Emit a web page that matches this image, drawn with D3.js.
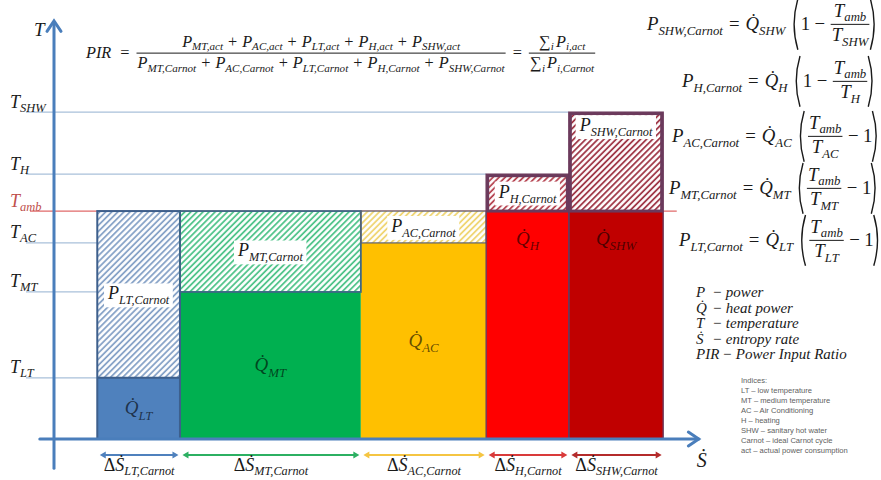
<!DOCTYPE html>
<html>
<head>
<meta charset="utf-8">
<script src="https://cdn.jsdelivr.net/npm/d3@7"></script>
<style>
  body { margin: 0; background: #fff; }
  svg { display: block; }
</style>
</head>
<body>
<svg id="chart" width="881" height="480"></svg>
<script>
// ---- data -------------------------------------------------------------
const systems      = ["LT", "MT", "AC", "H", "SHW"];
const deltaS       = [12.8, 28.0, 19.4, 12.8, 14.6];   // entropy rate width of each block
const sStart       = 6.7;                              // first block starts here on the Ṡ axis
const supplyTemp   = [14.6, 35.1, 46.8, 63.2, 78.0];   // supply temperature of each system
const Tamb         = 54.4;                             // ambient temperature
const tempLabels   = ["SHW", "H", "amb", "AC", "MT", "LT"];
const tempValues   = [78.0, 63.2, 54.4, 46.8, 35.1, 14.6];

const legendSymbols = ["P", "Q\u0307", "T", "\u1E60", "PIR"];
const legendTexts   = ["power", "heat power", "temperature", "entropy rate", "Power Input Ratio"];
const indexLines    = ["Indices:", "LT \u2013 low temperature", "MT \u2013 medium temperature",
                       "AC \u2013 Air Conditioning", "H \u2013 heating", "SHW \u2013 sanitary hot water",
                       "Carnot \u2013 ideal Carnot cycle", "act \u2013 actual power consumption"];

// ---- styles -----------------------------------------------------------
const qFill      = ["#4f81bd", "#00b050", "#ffc000", "#ff0000", "#c00000"];
const hatchColor = ["#7f9dc4", "#45c083", "#efd36a", "#b23a48", "#9a2c3c"];
const borderCol  = ["#3d5f8c", "#3e6786", "#5b6070", "#6b3a5c", "#6b3a5c"];
const arrowCol   = ["#4f81bd", "#2cb062", "#f5c542", "#d93a3a", "#b42b2b"];
const axisCol    = "#4a7ebb";
const refCol     = "#a9c0da";
const FONT = "'Liberation Serif', 'DejaVu Serif', serif";
const INK = "#1a1a1a";

const svg = d3.select("#chart");
const x = d3.scaleLinear().domain([0, 100]).range([54, 700]);
const y = d3.scaleLinear().domain([0, 100]).range([439, 20]);

// ---- small math typesetter -------------------------------------------
// token: {t, s, up, pad, gapAfter} | {frac:[num, den]} | {paren:"(" or ")"}
function mathRow(parent, tokens, size, color, subDrop) {
  color = color || INK;
  subDrop = subDrop == null ? 0.27 : subDrop;
  const g = parent.append("g").attr("text-anchor", "start");
  let cx = 0;
  for (const tk of tokens) {
    if (tk.frac) {
      const fs = size * (tk.scale || 1);
      const n = mathRow(g, tk.frac[0], fs, color, 0.22);
      const d = mathRow(g, tk.frac[1], fs, color, subDrop);
      const w = Math.max(n.width, d.width) + 4;
      const axis = -size * 0.3;
      n.g.attr("transform", `translate(${cx + (w - n.width) / 2},${axis - fs * 0.4})`);
      d.g.attr("transform", `translate(${cx + (w - d.width) / 2},${axis + fs * 0.9})`);
      g.append("line").attr("x1", cx + 1).attr("x2", cx + w - 1)
        .attr("y1", axis).attr("y2", axis).attr("stroke", color).attr("stroke-width", 1);
      cx += w + (tk.gapAfter || 0);
    } else if (tk.paren) {
      const h = size * 1.35, axis = -size * 0.3, pw = size * 0.4;
      const p = tk.paren === "("
        ? `M${cx + pw},${axis - h} Q${cx},${axis} ${cx + pw},${axis + h}`
        : `M${cx},${axis - h} Q${cx + pw},${axis} ${cx},${axis + h}`;
      g.append("path").attr("d", p).attr("fill", "none").attr("stroke", color).attr("stroke-width", 1.4);
      cx += pw + size * 0.15;
    } else {
      cx += tk.pad || 0;
      const t = g.append("text").attr("x", cx).attr("y", 0).attr("text-anchor", "start")
        .attr("font-family", FONT).attr("font-size", size)
        .attr("font-style", tk.up ? "normal" : "italic").attr("fill", color);
      t.append("tspan").text(tk.t);
      if (tk.s) t.append("tspan").attr("font-size", size * 0.68).attr("dy", size * subDrop).text(tk.s);
      cx += t.node().getComputedTextLength() + (tk.pad || 0) + (tk.gapAfter || 0);
    }
  }
  return { g, width: cx };
}
const V  = (t, s) => ({ t, s });
const Op = (t, pad) => ({ t, up: true, pad: pad == null ? 4 : pad });
const Qd = s => ({ t: "Q\u0307", s });

// ---- hatch patterns ---------------------------------------------------
const defs = svg.append("defs");
systems.forEach((s, i) => {
  const p = defs.append("pattern").attr("id", "hatch-" + s)
    .attr("patternUnits", "userSpaceOnUse").attr("width", 4.3).attr("height", 4.3)
    .attr("patternTransform", "rotate(45)");
  p.append("rect").attr("width", 4.3).attr("height", 4.3).attr("fill", "#fff");
  p.append("line").attr("x1", 1).attr("x2", 1).attr("y1", 0).attr("y2", 4.3)
    .attr("stroke", hatchColor[i]).attr("stroke-width", 1.7);
});

// ---- block geometry ---------------------------------------------------
let acc = sStart;
const blocks = systems.map((s, i) => {
  const s0 = acc, s1 = acc + deltaS[i];
  acc = s1;
  const heater = supplyTemp[i] > Tamb;
  return {
    s, i, s0, s1, heater,
    qTop: heater ? Tamb : supplyTemp[i],
    cLo: heater ? Tamb : supplyTemp[i],
    cHi: heater ? supplyTemp[i] : Tamb
  };
});

// ---- temperature reference lines ---------------------------------------
const refG = svg.append("g");
tempLabels.forEach((lab, k) => {
  const idx = systems.indexOf(lab);
  const xEnd = lab === "amb" ? x(acc + 2.1) : x(blocks[idx].s0);
  refG.append("line")
    .attr("x1", lab === "amb" ? 30 : 26).attr("x2", xEnd)
    .attr("y1", y(tempValues[k])).attr("y2", y(tempValues[k]))
    .attr("stroke", lab === "amb" ? "#e06a6a" : refCol).attr("stroke-width", 1.2);
});

// temperature axis labels via d3 axis
const yAxis = d3.axisLeft(y).tickValues(tempValues).tickSize(0).tickFormat("");
const yAxisG = svg.append("g").call(yAxis);
yAxisG.select(".domain").remove();
yAxisG.selectAll(".tick").each(function (d, k) {
  const lab = tempLabels[k];
  const t = d3.select(this).append("text")
    .attr("x", 10).attr("y", -5).attr("text-anchor", "start")
    .attr("font-family", FONT).attr("font-style", "italic").attr("font-size", 18)
    .attr("fill", lab === "amb" ? "#c0504d" : INK);
  t.append("tspan").text("T");
  t.append("tspan").attr("font-size", 12.5).attr("dy", 4).text(lab);
});

// ---- blocks -----------------------------------------------------------
const bG = svg.append("g");
blocks.forEach(b => {
  const bx = x(b.s0), bw = x(b.s1) - x(b.s0);
  // heat power
  bG.append("rect").attr("x", bx).attr("y", y(b.qTop)).attr("width", bw)
    .attr("height", y(0) - y(b.qTop)).attr("fill", qFill[b.i]);
  // Carnot power
  bG.append("rect").attr("x", bx).attr("y", y(b.cHi)).attr("width", bw)
    .attr("height", y(b.cLo) - y(b.cHi)).attr("fill", `url(#hatch-${b.s})`);
});
blocks.forEach(b => {
  const bx = x(b.s0), bw = x(b.s1) - x(b.s0);
  if (b.s === "LT") {
    bG.append("rect").attr("x", bx).attr("y", y(b.cHi)).attr("width", bw)
      .attr("height", y(0) - y(b.cHi)).attr("fill", "none").attr("stroke", borderCol[b.i]).attr("stroke-width", 2);
    bG.append("line").attr("x1", bx).attr("x2", bx + bw).attr("y1", y(b.cLo)).attr("y2", y(b.cLo))
      .attr("stroke", borderCol[b.i]).attr("stroke-width", 2);
  } else if (b.heater) {
    bG.append("rect").attr("x", bx).attr("y", y(b.cHi)).attr("width", bw)
      .attr("height", y(0) - y(b.cHi)).attr("fill", "none").attr("stroke", borderCol[b.i]).attr("stroke-width", 1.4);
    bG.append("rect").attr("x", bx + 1.5).attr("y", y(b.cHi) + 1.5).attr("width", bw - 3)
      .attr("height", y(b.cLo) - y(b.cHi) - 1.5).attr("fill", "none").attr("stroke", borderCol[b.i]).attr("stroke-width", 3);
  } else {
    bG.append("rect").attr("x", bx).attr("y", y(b.cHi)).attr("width", bw)
      .attr("height", y(b.cLo) - y(b.cHi)).attr("fill", "none").attr("stroke", borderCol[b.i])
      .attr("stroke-width", b.s === "AC" ? 1.2 : 1.8);
  }
});

// Carnot labels in white boxes
blocks.forEach(b => {
  const cx = (x(b.s0) + x(b.s1)) / 2;
  const cy = b.s === "SHW" ? y(b.cHi) + 19 : (y(b.cHi) + y(b.cLo)) / 2 + 5;
  const lg = bG.append("g");
  const bgRect = lg.append("rect").attr("fill", "#fff");
  const m = mathRow(lg, [V("P", b.s + ",Carnot")], 18);
  m.g.attr("transform", `translate(${cx - m.width / 2},${cy})`);
  const bb = m.g.node().getBBox();
  bgRect.attr("x", cx - m.width / 2 + bb.x - 3).attr("y", cy + bb.y)
    .attr("width", bb.width + 6).attr("height", bb.height);
});

// heat power labels
blocks.forEach(b => {
  const cx = (x(b.s0) + x(b.s1)) / 2;
  const cy = b.heater ? y(b.qTop) + 34 : (y(b.qTop) + y(0)) / 2 + 6;
  const m = mathRow(bG, [Qd(b.s)], 19, "rgba(0,0,0,0.62)");
  m.g.attr("transform", `translate(${cx - m.width / 2},${cy})`);
});

// ---- axes -------------------------------------------------------------
const axG = svg.append("g").attr("stroke", axisCol).attr("stroke-width", 3)
  .attr("fill", "none").attr("stroke-linecap", "round");
axG.append("line").attr("x1", x(0)).attr("x2", x(0)).attr("y1", y(-7)).attr("y2", y(99.5));
axG.append("polyline").attr("points", `${x(0) - 7},${y(97.3)} ${x(0)},${y(99.8)} ${x(0) + 7},${y(97.3)}`);
axG.append("line").attr("x1", x(-2.2)).attr("x2", x(99.8)).attr("y1", y(0)).attr("y2", y(0));
axG.append("polyline").attr("points", `${x(98.2)},${y(0) - 7} ${x(99.8)},${y(0)} ${x(98.2)},${y(0) + 7}`);

svg.append("text").attr("x", 34).attr("y", 36).attr("font-family", FONT)
  .attr("font-style", "italic").attr("font-size", 19).attr("fill", INK).text("T");
svg.append("text").attr("x", x(99.5)).attr("y", 467).attr("font-family", FONT)
  .attr("font-style", "italic").attr("font-size", 20).attr("fill", INK).text("\u1E60");

// ΔṠ spans under the axis
const mids = blocks.map(b => (b.s0 + b.s1) / 2);
const xAxis = d3.axisBottom(x).tickValues(mids).tickSize(0).tickFormat("");
const xAxisG = svg.append("g").attr("transform", `translate(0,${y(0)})`).call(xAxis);
xAxisG.select(".domain").remove();
xAxisG.selectAll(".tick").each(function (d, k) {
  const b = blocks[k];
  const tg = d3.select(this);
  const half = (x(b.s1) - x(b.s0)) / 2 - 2, ay = 16;
  tg.append("line").attr("x1", -half + 4).attr("x2", half - 4).attr("y1", ay).attr("y2", ay)
    .attr("stroke", arrowCol[k]).attr("stroke-width", 2);
  tg.append("path").attr("d", `M${-half},${ay} l6,-3.5 v7 z M${half},${ay} l-6,-3.5 v7 z`)
    .attr("fill", arrowCol[k]);
  const m = mathRow(tg, [{ t: "\u0394", up: true }, V("\u1E60", b.s + ",Carnot")], 18, INK, 0.2);
  m.g.attr("transform", `translate(${-m.width / 2},32)`);
});

// ---- PIR definition -----------------------------------------------------
const plus = Op("+", 5);
const actTerms = ["MT", "AC", "LT", "H", "SHW"];
const num = [], den = [];
actTerms.forEach((s, k) => {
  if (k) { num.push(plus); den.push(plus); }
  num.push(V("P", s + ",act"));
  den.push(V("P", s + ",Carnot"));
});
const pir = mathRow(svg, [
  { t: "PIR", gapAfter: 3 }, Op("=", 6),
  { frac: [num, den], gapAfter: 0 }, Op("=", 6),
  { frac: [[{ t: "\u2211", up: true, gapAfter: 0.5 }, { t: "", s: "i", gapAfter: 2 }, V("P", "i,act")],
           [{ t: "\u2211", up: true, gapAfter: 0.5 }, { t: "", s: "i", gapAfter: 2 }, V("P", "i,Carnot")]] }
], 16.3);
pir.g.attr("transform", "translate(86,58)");

// ---- Carnot power relations -------------------------------------------
const relations = [
  { s: "SHW", heat: true,  x: 647, y: 30 },
  { s: "H",   heat: true,  x: 682, y: 87 },
  { s: "AC",  heat: false, x: 672, y: 142 },
  { s: "MT",  heat: false, x: 669, y: 194 },
  { s: "LT",  heat: false, x: 679, y: 246 }
];
relations.forEach(r => {
  const fr = { frac: [[V("T", "amb")], [V("T", r.s)]] };
  const inner = r.heat
    ? [{ t: "1", up: true }, Op("\u2212", 4.5), fr]
    : [fr, Op("\u2212", 4.5), { t: "1", up: true }];
  const m = mathRow(svg, [V("P", r.s + ",Carnot"), Op("=", 6), Qd(r.s), { t: "", pad: 2.5 },
    { paren: "(" }, ...inner, { paren: ")" }], 18.8);
  m.g.attr("transform", `translate(${r.x},${r.y})`);
});

// ---- symbol legend ------------------------------------------------------
legendSymbols.forEach((sym, k) => {
  const yy = 297 + k * 15.5;
  const t = svg.append("text").attr("x", 696).attr("y", yy).attr("font-family", FONT)
    .attr("font-style", "italic").attr("font-size", 15).attr("fill", INK);
  t.append("tspan").text(sym);
  t.append("tspan").attr("x", sym.length > 2 ? 722 : 712).text("\u2212 " + legendTexts[k]);
});

// indices
svg.append("g").selectAll("text").data(indexLines).join("text")
  .attr("x", 741).attr("y", (d, k) => 383 + k * 10)
  .attr("font-family", "'Liberation Sans', Arial, sans-serif").attr("font-size", 7.6)
  .attr("fill", "#606060").text(d => d);
</script>
</body>
</html>
